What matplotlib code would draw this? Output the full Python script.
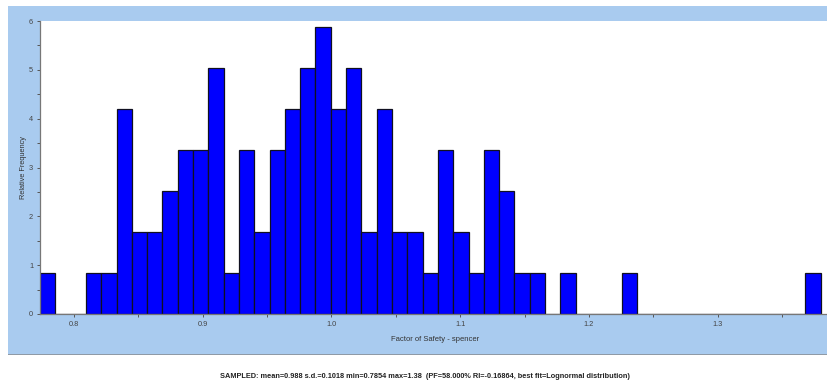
import numpy as np
import matplotlib
matplotlib.use("Agg")
from matplotlib import pyplot as plt
from matplotlib.patches import Rectangle
from matplotlib.ticker import MultipleLocator

# sampled factor of safety, 100 samples binned into 51 bins
n_samples = 100
fs_min = 0.7854
fs_max = 1.38
n_bins = 51
counts = [1, 0, 0, 1, 1, 5, 2, 2, 3, 4, 4, 6, 1, 4, 2, 4, 5, 6, 7, 5,
          6, 2, 5, 2, 2, 1, 4, 2, 1, 4, 3, 1, 1, 0, 1, 0, 0, 0, 1, 0,
          0, 0, 0, 0, 0, 0, 0, 0, 0, 0, 1]
x_ticks = [0.8, 0.9, 1.0, 1.1, 1.2, 1.3]
y_ticks = [0, 1, 2, 3, 4, 5, 6]
summary = ("SAMPLED: mean=0.988 s.d.=0.1018 min=0.7854 max=1.38  "
           "(PF=58.000% RI=-0.16864, best fit=Lognormal distribution)")

# bin edges: each bin ends on a sample value step
width = (fs_max - fs_min) / (n_bins - 1)
left_edges = fs_min - width + width * np.arange(n_bins)
# relative frequency as density
heights = np.array(counts) / (n_samples * width)

plt.rcParams["font.family"] = ["Liberation Sans", "DejaVu Sans"]

fig = plt.figure(figsize=(8.28, 3.81), dpi=100)
fig.patch.set_facecolor("white")

# light blue panel behind the chart
fig.add_artist(Rectangle((8 / 828, 27 / 381), 1.0, 348 / 381,
                         transform=fig.transFigure, facecolor="#a9cbef",
                         edgecolor="none", zorder=0))
fig.add_artist(Rectangle((8 / 828, 26 / 381), 1.0, 1.2 / 381,
                         transform=fig.transFigure, facecolor="#8f9aa6",
                         edgecolor="none", zorder=0))

ax = fig.add_axes([40 / 828, 67 / 381, 790 / 828, 293 / 381])
ax.set_facecolor("white")
ax.bar(left_edges, heights, width=width, align="edge",
       color="#0000ff", edgecolor="#101020", linewidth=0.9)

ax.set_xlim(left_edges[0], left_edges[0] + 790 / 1287)
ax.set_ylim(0, 6)
ax.set_xticks(x_ticks)
ax.set_xticklabels(["%.1f" % t for t in x_ticks])
ax.set_yticks(y_ticks)
ax.xaxis.set_minor_locator(MultipleLocator(0.05))
ax.yaxis.set_minor_locator(MultipleLocator(0.5))

for side in ["top", "right"]:
    ax.spines[side].set_visible(False)
for side in ["left", "bottom"]:
    ax.spines[side].set_color("#777777")
    ax.spines[side].set_linewidth(0.9)

ax.tick_params(which="both", direction="out", length=2.5, width=0.7,
               color="#555555", labelsize=5.3, labelcolor="#444444", pad=2.5)

ax.set_xlabel("Factor of Safety - spencer", fontsize=5.5, color="#333333",
              labelpad=6)
ax.set_ylabel("Relative Frequency", fontsize=5.3, color="#333333",
              labelpad=1.5)

fig.text(425 / 828, 5 / 381, summary, ha="center", va="center",
         fontsize=5.3, fontweight="bold", color="#222222")

plt.savefig("out.png", dpi=100)
